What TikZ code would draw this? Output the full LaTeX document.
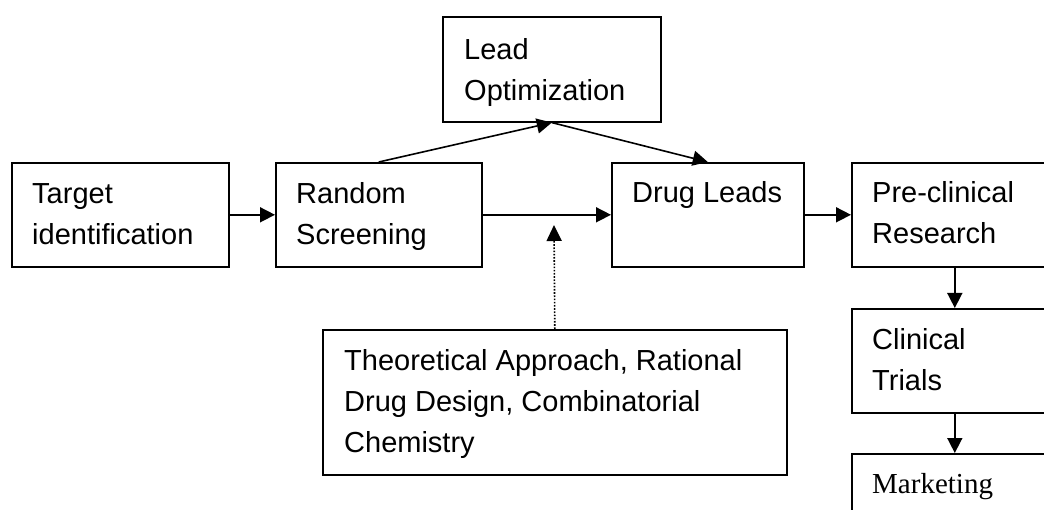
\documentclass[tikz,border=0pt]{standalone}
\usepackage{fontspec}
\setmainfont{Liberation Sans}
\newfontfamily\mkserif{Liberation Serif}
\usetikzlibrary{arrows.meta}
\begin{document}
\begin{tikzpicture}[x=1pt,y=-1pt,
  stagebox/.style={draw=black,line width=1.6pt,inner sep=0pt,anchor=north west},
  stagetext/.style={anchor=north west,inner sep=0pt,align=left,
    font=\fontsize{29}{41}\selectfont},
  flow/.style={line width=1.6pt,-{Triangle[length=15pt,width=15pt]}},
  hint/.style={line width=1.6pt,dash pattern=on 1.6pt off 1.6pt,
    -{Triangle[length=16pt,width=15pt]}}]
\useasboundingbox (0,0) rectangle (1044,510);
\clip (0,0) rectangle (1044,510);

% stage boxes
\node[stagebox,minimum width=217pt,minimum height=104pt] (tgt)  at (11,162)  {};
\node[stagebox,minimum width=206pt,minimum height=104pt] (rnd)  at (275,162) {};
\node[stagebox,minimum width=218pt,minimum height=105pt] (lead) at (442,16)  {};
\node[stagebox,minimum width=192pt,minimum height=104pt] (drug) at (611,162) {};
\node[stagebox,minimum width=206pt,minimum height=104pt] (pre)  at (851,162) {};
\node[stagebox,minimum width=206pt,minimum height=104pt] (clin) at (851,308) {};
\node[stagebox,minimum width=206pt,minimum height=90pt]  (mkt)  at (851,453) {};
\node[stagebox,minimum width=464pt,minimum height=145pt] (theo) at (322,329) {};

% labels
\node[stagetext] (tgtT)  at ([xshift=21pt,yshift=-13pt]tgt.north west)  {\strut Target\\identification};
\node[stagetext] (rndT)  at ([xshift=21pt,yshift=-13pt]rnd.north west)  {\strut Random\\Screening};
\node[stagetext] (leadT) at ([xshift=22pt,yshift=-15pt]lead.north west) {\strut Lead\\Optimization};
\node[stagetext] (drugT) at ([xshift=21pt,yshift=-12pt]drug.north west) {\strut Drug Leads};
\node[stagetext] (preT)  at ([xshift=21pt,yshift=-12pt]pre.north west)  {\strut Pre-clinical\\Research};
\node[stagetext] (clinT) at ([xshift=21pt,yshift=-13pt]clin.north west) {\strut Clinical\\Trials};
\node[stagetext,font=\mkserif\fontsize{29}{41}\selectfont] (mktT)
  at ([xshift=21pt,yshift=-12pt]mkt.north west) {\strut Marketing};
\node[stagetext] (theoT) at ([xshift=22pt,yshift=-13pt]theo.north west)
  {\strut Theoretical Approach, Rational\\Drug Design, Combinatorial\\Chemistry};

% connectors
\coordinate (dtip) at (554,225);
\draw[flow] (tgt) -- (rnd);
\draw[flow] (rnd.north) -- (lead.south);
\draw[flow] (lead.south) -- (drug.north);
\draw[flow] (rnd) -- (drug);
\draw[flow] (drug) -- (pre);
\draw[flow] (pre.south) -- (clin.north);
\draw[flow] (clin.south) -- (mkt.north);
\draw[hint] (theo.north) -- (dtip);
\end{tikzpicture}
\end{document}
